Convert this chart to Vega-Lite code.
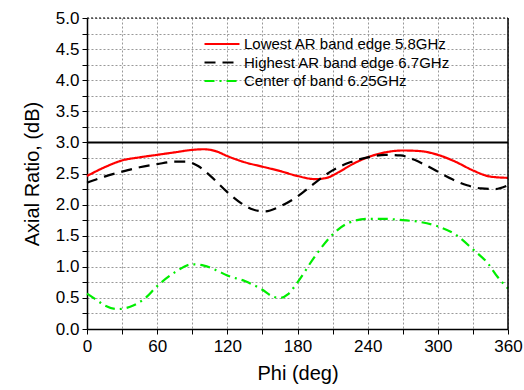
{
  "$schema": "https://vega.github.io/schema/vega-lite/v6.json",
  "width": 421,
  "height": 311,
  "autosize": {"type": "none"},
  "padding": {"left": 87, "top": 18, "right": 16, "bottom": 61},
  "background": "white",
  "config": {
    "font": "Liberation Sans",
    "view": {"stroke": null}
  },
  "datasets": {
    "curves": [
      {"phi": 0, "ar": 2.46, "series": "Lowest AR band edge 5.8GHz"},
      {"phi": 15, "ar": 2.6, "series": "Lowest AR band edge 5.8GHz"},
      {"phi": 30, "ar": 2.71, "series": "Lowest AR band edge 5.8GHz"},
      {"phi": 45, "ar": 2.76, "series": "Lowest AR band edge 5.8GHz"},
      {"phi": 60, "ar": 2.8, "series": "Lowest AR band edge 5.8GHz"},
      {"phi": 75, "ar": 2.84, "series": "Lowest AR band edge 5.8GHz"},
      {"phi": 90, "ar": 2.88, "series": "Lowest AR band edge 5.8GHz"},
      {"phi": 100, "ar": 2.89, "series": "Lowest AR band edge 5.8GHz"},
      {"phi": 110, "ar": 2.86, "series": "Lowest AR band edge 5.8GHz"},
      {"phi": 120, "ar": 2.78, "series": "Lowest AR band edge 5.8GHz"},
      {"phi": 135, "ar": 2.68, "series": "Lowest AR band edge 5.8GHz"},
      {"phi": 150, "ar": 2.61, "series": "Lowest AR band edge 5.8GHz"},
      {"phi": 165, "ar": 2.54, "series": "Lowest AR band edge 5.8GHz"},
      {"phi": 180, "ar": 2.46, "series": "Lowest AR band edge 5.8GHz"},
      {"phi": 195, "ar": 2.41, "series": "Lowest AR band edge 5.8GHz"},
      {"phi": 205, "ar": 2.43, "series": "Lowest AR band edge 5.8GHz"},
      {"phi": 215, "ar": 2.52, "series": "Lowest AR band edge 5.8GHz"},
      {"phi": 228, "ar": 2.66, "series": "Lowest AR band edge 5.8GHz"},
      {"phi": 240, "ar": 2.76, "series": "Lowest AR band edge 5.8GHz"},
      {"phi": 255, "ar": 2.84, "series": "Lowest AR band edge 5.8GHz"},
      {"phi": 270, "ar": 2.87, "series": "Lowest AR band edge 5.8GHz"},
      {"phi": 285, "ar": 2.86, "series": "Lowest AR band edge 5.8GHz"},
      {"phi": 300, "ar": 2.8, "series": "Lowest AR band edge 5.8GHz"},
      {"phi": 315, "ar": 2.69, "series": "Lowest AR band edge 5.8GHz"},
      {"phi": 330, "ar": 2.55, "series": "Lowest AR band edge 5.8GHz"},
      {"phi": 345, "ar": 2.45, "series": "Lowest AR band edge 5.8GHz"},
      {"phi": 360, "ar": 2.43, "series": "Lowest AR band edge 5.8GHz"},

      {"phi": 0, "ar": 2.35, "series": "Highest AR band edge 6.7GHz"},
      {"phi": 15, "ar": 2.45, "series": "Highest AR band edge 6.7GHz"},
      {"phi": 30, "ar": 2.53, "series": "Highest AR band edge 6.7GHz"},
      {"phi": 45, "ar": 2.6, "series": "Highest AR band edge 6.7GHz"},
      {"phi": 60, "ar": 2.65, "series": "Highest AR band edge 6.7GHz"},
      {"phi": 75, "ar": 2.69, "series": "Highest AR band edge 6.7GHz"},
      {"phi": 85, "ar": 2.69, "series": "Highest AR band edge 6.7GHz"},
      {"phi": 95, "ar": 2.62, "series": "Highest AR band edge 6.7GHz"},
      {"phi": 105, "ar": 2.47, "series": "Highest AR band edge 6.7GHz"},
      {"phi": 120, "ar": 2.2, "series": "Highest AR band edge 6.7GHz"},
      {"phi": 132, "ar": 2.02, "series": "Highest AR band edge 6.7GHz"},
      {"phi": 142, "ar": 1.92, "series": "Highest AR band edge 6.7GHz"},
      {"phi": 152, "ar": 1.89, "series": "Highest AR band edge 6.7GHz"},
      {"phi": 165, "ar": 1.97, "series": "Highest AR band edge 6.7GHz"},
      {"phi": 180, "ar": 2.13, "series": "Highest AR band edge 6.7GHz"},
      {"phi": 195, "ar": 2.35, "series": "Highest AR band edge 6.7GHz"},
      {"phi": 210, "ar": 2.55, "series": "Highest AR band edge 6.7GHz"},
      {"phi": 225, "ar": 2.68, "series": "Highest AR band edge 6.7GHz"},
      {"phi": 240, "ar": 2.76, "series": "Highest AR band edge 6.7GHz"},
      {"phi": 255, "ar": 2.8, "series": "Highest AR band edge 6.7GHz"},
      {"phi": 268, "ar": 2.79, "series": "Highest AR band edge 6.7GHz"},
      {"phi": 280, "ar": 2.72, "series": "Highest AR band edge 6.7GHz"},
      {"phi": 290, "ar": 2.63, "series": "Highest AR band edge 6.7GHz"},
      {"phi": 300, "ar": 2.53, "series": "Highest AR band edge 6.7GHz"},
      {"phi": 312, "ar": 2.41, "series": "Highest AR band edge 6.7GHz"},
      {"phi": 325, "ar": 2.31, "series": "Highest AR band edge 6.7GHz"},
      {"phi": 337, "ar": 2.26, "series": "Highest AR band edge 6.7GHz"},
      {"phi": 349, "ar": 2.25, "series": "Highest AR band edge 6.7GHz"},
      {"phi": 360, "ar": 2.31, "series": "Highest AR band edge 6.7GHz"},

      {"phi": 0, "ar": 0.57, "series": "Center of band 6.25GHz"},
      {"phi": 8, "ar": 0.47, "series": "Center of band 6.25GHz"},
      {"phi": 15, "ar": 0.38, "series": "Center of band 6.25GHz"},
      {"phi": 26, "ar": 0.32, "series": "Center of band 6.25GHz"},
      {"phi": 40, "ar": 0.38, "series": "Center of band 6.25GHz"},
      {"phi": 50, "ar": 0.5, "series": "Center of band 6.25GHz"},
      {"phi": 60, "ar": 0.69, "series": "Center of band 6.25GHz"},
      {"phi": 75, "ar": 0.91, "series": "Center of band 6.25GHz"},
      {"phi": 90, "ar": 1.04, "series": "Center of band 6.25GHz"},
      {"phi": 100, "ar": 1.02, "series": "Center of band 6.25GHz"},
      {"phi": 110, "ar": 0.95, "series": "Center of band 6.25GHz"},
      {"phi": 120, "ar": 0.86, "series": "Center of band 6.25GHz"},
      {"phi": 135, "ar": 0.77, "series": "Center of band 6.25GHz"},
      {"phi": 150, "ar": 0.63, "series": "Center of band 6.25GHz"},
      {"phi": 158, "ar": 0.53, "series": "Center of band 6.25GHz"},
      {"phi": 165, "ar": 0.5, "series": "Center of band 6.25GHz"},
      {"phi": 172, "ar": 0.56, "series": "Center of band 6.25GHz"},
      {"phi": 180, "ar": 0.75, "series": "Center of band 6.25GHz"},
      {"phi": 195, "ar": 1.17, "series": "Center of band 6.25GHz"},
      {"phi": 210, "ar": 1.52, "series": "Center of band 6.25GHz"},
      {"phi": 223, "ar": 1.7, "series": "Center of band 6.25GHz"},
      {"phi": 240, "ar": 1.77, "series": "Center of band 6.25GHz"},
      {"phi": 255, "ar": 1.77, "series": "Center of band 6.25GHz"},
      {"phi": 270, "ar": 1.75, "series": "Center of band 6.25GHz"},
      {"phi": 285, "ar": 1.72, "series": "Center of band 6.25GHz"},
      {"phi": 300, "ar": 1.65, "series": "Center of band 6.25GHz"},
      {"phi": 315, "ar": 1.52, "series": "Center of band 6.25GHz"},
      {"phi": 330, "ar": 1.28, "series": "Center of band 6.25GHz"},
      {"phi": 343, "ar": 1.05, "series": "Center of band 6.25GHz"},
      {"phi": 351, "ar": 0.84, "series": "Center of band 6.25GHz"},
      {"phi": 360, "ar": 0.65, "series": "Center of band 6.25GHz"}
    ]
  },
  "encoding": {
    "x": {
      "field": "phi", "type": "quantitative",
      "scale": {"domain": [0, 360], "nice": false},
      "axis": {
        "title": "Phi (deg)",
        "titleFontSize": 20, "titleFontWeight": "normal", "titleColor": "black", "titlePadding": 9,
        "values": [0, 30, 60, 90, 120, 150, 180, 210, 240, 270, 300, 330, 360],
        "labelExpr": "datum.value % 60 == 0 ? datum.label : ''",
        "labelOverlap": false,
        "labelFontSize": 17, "labelColor": "black", "labelPadding": 4, "labelFlush": false,
        "domainColor": "black", "domainWidth": 1.5,
        "tickColor": "black", "tickSize": 5, "tickWidth": 1,
        "grid": true, "gridColor": "#999999", "gridDash": [2, 2], "gridWidth": 1
      }
    },
    "y": {
      "field": "ar", "type": "quantitative",
      "scale": {"domain": [0, 5], "nice": false},
      "axis": {
        "title": "Axial Ratio, (dB)",
        "titleFontSize": 20, "titleFontWeight": "normal", "titleColor": "black", "titlePadding": 13,
        "values": [0, 0.25, 0.5, 0.75, 1, 1.25, 1.5, 1.75, 2, 2.25, 2.5, 2.75, 3, 3.25, 3.5, 3.75, 4, 4.25, 4.5, 4.75, 5],
        "labelExpr": "datum.value % 0.5 == 0 ? format(datum.value, '.1f') : ''",
        "labelOverlap": false,
        "labelFontSize": 17, "labelColor": "black", "labelPadding": 3, "labelFlush": false,
        "domainColor": "black", "domainWidth": 1.5,
        "tickColor": "black", "tickSize": 5, "tickWidth": 1,
        "grid": true, "gridColor": "#999999", "gridDash": [2, 2], "gridWidth": 1
      }
    }
  },
  "layer": [
    {
      "data": {"name": "curves"},
      "mark": {"type": "line", "strokeWidth": 2.2, "interpolate": "monotone"},
      "encoding": {
        "color": {
          "field": "series", "type": "nominal",
          "scale": {
            "domain": ["Lowest AR band edge 5.8GHz", "Highest AR band edge 6.7GHz", "Center of band 6.25GHz"],
            "range": ["#ff0000", "#000000", "#00ee00"]
          },
          "legend": {
            "title": null, "orient": "none", "legendX": 125, "legendY": 16,
            "symbolType": "M-2,0H2", "symbolSize": 306, "symbolStrokeWidth": 2.2,
            "labelFontSize": 15, "labelColor": "black", "labelOffset": 12, "labelLimit": 0,
            "rowPadding": 0.5, "padding": 0
          }
        },
        "strokeDash": {
          "field": "series", "type": "nominal",
          "scale": {
            "domain": ["Lowest AR band edge 5.8GHz", "Highest AR band edge 6.7GHz", "Center of band 6.25GHz"],
            "range": [[1, 0], [11, 7], [10, 5, 2, 5]]
          },
          "legend": null
        }
      }
    },
    {
      "data": {"values": [{"phi": 0, "phi2": 360, "ar": 3}]},
      "mark": {"type": "rule", "color": "black", "strokeWidth": 2},
      "encoding": {"x2": {"field": "phi2"}}
    },
    {
      "data": {"values": [{"phi": 360, "ar": 0, "ar2": 5}]},
      "mark": {"type": "rule", "color": "black", "strokeWidth": 1.5},
      "encoding": {"y2": {"field": "ar2"}}
    },
    {
      "data": {"values": [{"phi": 0, "phi2": 360, "ar": 5}]},
      "mark": {"type": "rule", "color": "black", "strokeWidth": 1, "strokeDash": [2, 2]},
      "encoding": {"x2": {"field": "phi2"}}
    }
  ]
}
